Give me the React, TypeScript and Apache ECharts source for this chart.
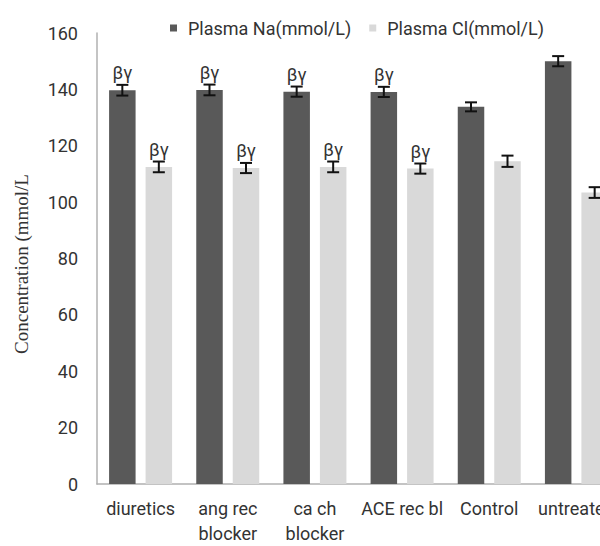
import React, { useEffect, useRef } from "react";
import * as echarts from "echarts";

const categories = ["diuretics", "ang rec\nblocker", "ca ch\nblocker", "ACE rec bl", "Control", "untreated"];
const naValues = [139.7, 139.8, 139.2, 139.1, 133.8, 150.0];
const clValues = [112.5, 112.1, 112.5, 111.9, 114.5, 103.4];
const naErrors = [1.9, 1.9, 1.8, 1.8, 1.6, 1.8];
const clErrors = [1.9, 1.8, 1.9, 1.8, 2.0, 1.9];
const naMarks = ["βγ", "βγ", "βγ", "βγ", "", ""];
const clMarks = ["βγ", "βγ", "βγ", "βγ", "", ""];
const yTicks = [0, 20, 40, 60, 80, 100, 120, 140, 160];
const yTitle = "Concentration (mmol/L";

const BAR_W = 26.5;
const GAP_PX = 10;
const FONT = "Roboto";

function errorSeries(values: number[], errors: number[], marks: string[], side: number) {
  return {
    type: "custom",
    silent: true,
    z: 10,
    data: values.map((v, i) => [i, v, errors[i]]),
    renderItem: (params: any, api: any) => {
      const idx = api.value(0);
      const v = api.value(1);
      const e = api.value(2);
      const mark = marks[idx];
      const off = side * (BAR_W + GAP_PX) / 2;
      const top = api.coord([idx, v + e]);
      const bot = api.coord([idx, v - e]);
      const x = top[0] + off;
      const cap = 6;
      const children: any[] = [
        { type: "line", shape: { x1: x, y1: top[1], x2: x, y2: bot[1] }, style: { stroke: "#111", lineWidth: 2 } },
        { type: "line", shape: { x1: x - cap, y1: top[1], x2: x + cap, y2: top[1] }, style: { stroke: "#111", lineWidth: 2 } },
        { type: "line", shape: { x1: x - cap, y1: bot[1], x2: x + cap, y2: bot[1] }, style: { stroke: "#111", lineWidth: 2 } },
      ];
      if (mark) {
        children.push({
          type: "text",
          style: {
            text: mark,
            x: x,
            y: top[1] - 3,
            align: "center",
            verticalAlign: "bottom",
            fontFamily: FONT,
            fontSize: 18,
            fill: "#333",
          },
        });
      }
      return { type: "group", children };
    },
  };
}

export default function App() {
  const ref = useRef<HTMLDivElement>(null);
  useEffect(() => {
    if (!ref.current) return;
    const chart = echarts.init(ref.current, undefined, { renderer: "svg" });
    chart.setOption({
      animation: false,
      backgroundColor: "#ffffff",
      legend: {
        left: 165,
        top: 14,
        itemWidth: 7,
        itemHeight: 7,
        itemGap: 18,
        icon: "rect",
        data: ["Plasma Na(mmol/L)", "Plasma Cl(mmol/L)"],
        textStyle: { fontFamily: FONT, fontSize: 18, color: "#333", padding: [0, 0, 0, 6] },
      },
      graphic: [
        {
          type: "text",
          x: 21,
          y: 264,
          rotation: Math.PI / 2,
          style: {
            text: yTitle,
            align: "center",
            verticalAlign: "middle",
            fontFamily: "Liberation Serif",
            fontSize: 19,
            fill: "#333",
          },
        },
      ],
      grid: { left: 97, top: 33, width: 523, height: 455, containLabel: false },
      xAxis: {
        type: "category",
        data: categories,
        axisLine: { lineStyle: { color: "#b0b0b0", width: 1.5 } },
        axisTick: { show: false },
        axisLabel: {
          interval: 0,
          margin: 12,
          fontFamily: FONT,
          fontSize: 18,
          lineHeight: 25,
          color: "#333",
        },
      },
      yAxis: {
        type: "value",
        min: 0,
        max: 160,
        interval: 20,
        axisLine: { show: true, lineStyle: { color: "#b0b0b0", width: 1.5 } },
        axisTick: { show: false },
        splitLine: { show: false },
        axisLabel: {
          margin: 19,
          fontFamily: FONT,
          fontSize: 18,
          color: "#333",
          formatter: (val: number) => (yTicks.includes(val) ? String(val) : ""),
        },
      },
      series: [
        {
          name: "Plasma Na(mmol/L)",
          type: "bar",
          data: naValues,
          barWidth: BAR_W,
          barGap: (GAP_PX / BAR_W * 100).toFixed(1) + "%",
          itemStyle: { color: "#595959" },
        },
        {
          name: "Plasma Cl(mmol/L)",
          type: "bar",
          data: clValues,
          barWidth: BAR_W,
          barGap: (GAP_PX / BAR_W * 100).toFixed(1) + "%",
          itemStyle: { color: "#d9d9d9" },
        },
        errorSeries(naValues, naErrors, naMarks, -1),
        errorSeries(clValues, clErrors, clMarks, 1),
      ],
    });
    return () => chart.dispose();
  }, []);
  return (
    <div style={{ position: "fixed", left: 0, top: 0, width: 600, height: 546, overflow: "hidden" }}>
      <div ref={ref} style={{ position: "absolute", left: 0, top: 0, width: 660, height: 546 }} />
    </div>
  );
}
